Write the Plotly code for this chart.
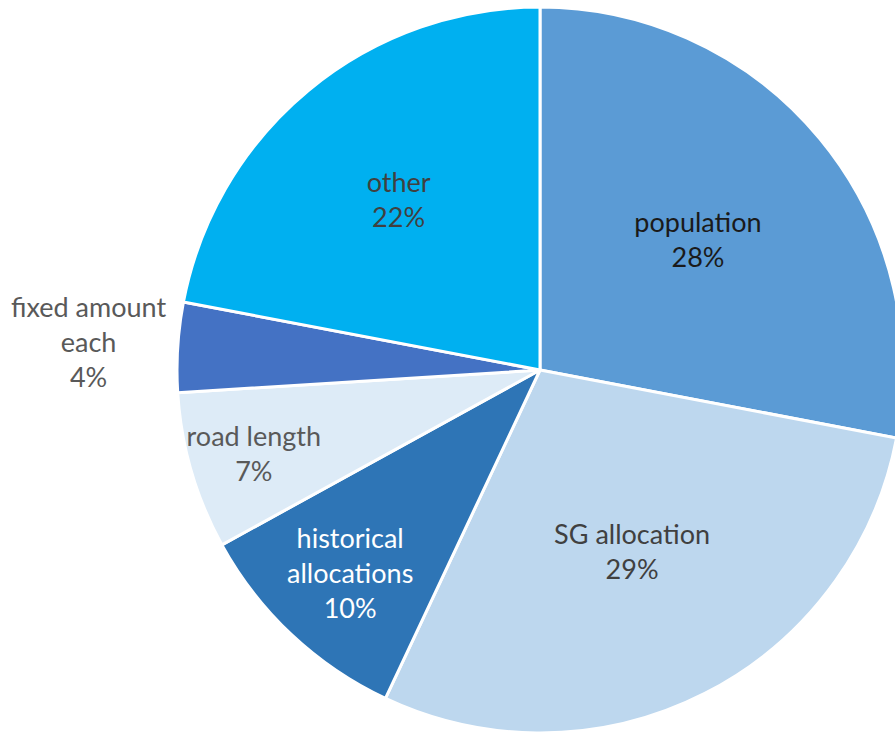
import math
import plotly.graph_objects as go

# Funding formula components
labels = ["population", "SG allocation", "historical<br>allocations", "road length",
          "fixed amount<br>each", "other"]
values = [28, 29, 10, 7, 4, 22]

slice_colors = ["#5B9BD5", "#BDD7EE", "#2E75B6", "#DDEBF7", "#4472C4", "#00B0F0"]
text_colors = ["#1a1a1a", "#404040", "#ffffff", "#595959", "#595959", "#404040"]
# the small slice gets its label outside the pie as an annotation
text_positions = ["inside", "inside", "inside", "inside", "none", "inside"]
outside_idx = 4

W, H = 910, 745
cx, cy, r = 540, 370, 363
FONT = "Lato"
FSIZE = 27

fig = go.Figure(go.Pie(
    labels=labels,
    values=values,
    sort=False,
    direction="clockwise",
    rotation=0,
    marker=dict(colors=slice_colors, line=dict(color="white", width=3)),
    texttemplate="%{label}<br>%{percent:.0%}",
    textposition=text_positions,
    insidetextorientation="horizontal",
    textfont=dict(family=FONT, size=FSIZE, color=text_colors),
    hoverinfo="label+percent",
    showlegend=False,
    domain=dict(x=[(cx - r) / W, (cx + r) / W], y=[(H - cy - r) / H, (H - cy + r) / H]),
))

# outside label placed along the slice's mid-angle, beyond the rim
total = sum(values)
start = sum(values[:outside_idx])
mid_frac = (start + values[outside_idx] / 2) / total
theta = 2 * math.pi * mid_frac  # clockwise from 12 o'clock
dist = 1.245 * r
lx = cx + dist * math.sin(theta)
ly = cy - dist * math.cos(theta)
pct = round(100 * values[outside_idx] / total)

fig.add_annotation(
    x=lx / W, y=(H - ly) / H, xref="paper", yref="paper",
    text=f"{labels[outside_idx]}<br>{pct}%",
    showarrow=False, xanchor="center", yanchor="middle",
    font=dict(family=FONT, size=FSIZE, color=text_colors[outside_idx]),
)

fig.update_layout(
    width=W, height=H,
    margin=dict(l=0, r=0, t=0, b=0),
    paper_bgcolor="white",
    plot_bgcolor="white",
    uniformtext=dict(minsize=FSIZE, mode="show"),
)

fig.write_html("out.html", post_script="document.body.style.overflow='hidden';")
